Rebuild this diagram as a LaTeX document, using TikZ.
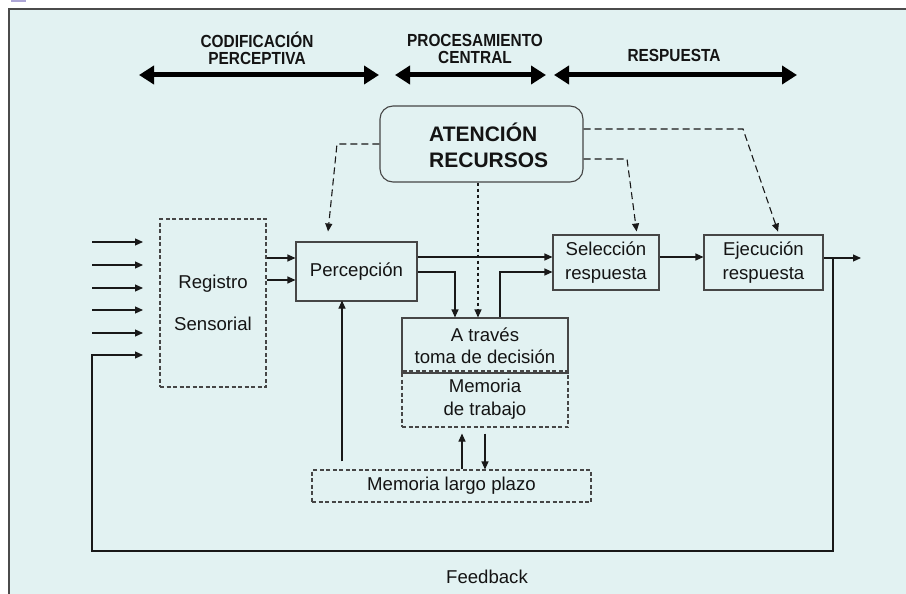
\documentclass[tikz,border=0pt]{standalone}
\usepackage{fontspec}
\setmainfont{Liberation Sans}
\usetikzlibrary{arrows.meta}
\definecolor{bg}{RGB}{226,242,242}
\definecolor{framec}{RGB}{75,75,75}
\definecolor{boxc}{RGB}{70,70,70}
\definecolor{purp}{RGB}{173,166,214}
\definecolor{txt}{RGB}{20,20,20}
\begin{document}
\begin{tikzpicture}[x=1pt,y=-1pt,
  box/.style={draw=boxc, line width=1.1pt, inner sep=0pt, text=txt,
    font=\fontsize{18.6}{23}\selectfont, align=center},
  dbox/.style={box, dash pattern=on 4pt off 2.5pt},
  arr/.style={draw=black!90, line width=1.1pt, -{Triangle[length=8pt,width=7pt]}},
  dsh/.style={arr, dash pattern=on 7pt off 4pt},
  dsh2/.style={arr, dash pattern=on 3.5pt off 2.5pt},
  big/.style={draw=black, line width=5pt, {Triangle[length=15pt,width=18pt]}-{Triangle[length=15pt,width=18pt]}},
  head/.style={font=\fontsize{17.5}{17}\selectfont\bfseries, align=center, text=txt, inner sep=0pt, xscale=0.88},
  plain/.style={font=\fontsize{18.6}{23}\selectfont, align=center, text=txt, inner sep=0pt}
]
\useasboundingbox (0,0) rectangle (906,594);
\fill[white] (0,0) rectangle (906,594);
\fill[purp] (11,0) rectangle (26,2.5);
\fill[bg] (8,9) rectangle (906,594);
\draw[framec, line width=2pt] (8.5,594) -- (8.5,9.5) -- (906,9.5);

% headers
\node[head] (h1) at (257,48.5) {CODIFICACIÓN\\PERCEPTIVA};
\node[head] (h2) at (475,48.5) {PROCESAMIENTO\\CENTRAL};
\node[head] (h3) at (674,55) {RESPUESTA};
\coordinate (a1l) at (139,75); \coordinate (a1r) at (379,75);
\coordinate (a2l) at (395,75); \coordinate (a2r) at (546,75);
\coordinate (a3l) at (554,75); \coordinate (a3r) at (797,75);
\draw[big] (a1l) -- (a1r);
\draw[big] (a2l) -- (a2r);
\draw[big] (a3l) -- (a3r);

% boxes
\node[box, rounded corners=13pt, minimum width=203pt, minimum height=76pt] (aten) at (481.5,144) {};
\node[plain, font=\fontsize{21}{26}\selectfont\bfseries, align=left, anchor=west] (atentxt) at (429,145) {ATENCIÓN\\RECURSOS};
\node[dbox, minimum width=106pt, minimum height=168pt] (reg) at (213,303) {Registro\\[19pt]Sensorial};
\node[box, minimum width=121pt, minimum height=59pt] (perc) at (356.5,271.5) {Percepción};
\node[box, minimum width=106pt, minimum height=55pt, font=\fontsize{18.6}{24}\selectfont] (sel) at (606,262.5) {Selección\\respuesta};
\node[box, minimum width=119pt, minimum height=55pt, font=\fontsize{18.6}{24}\selectfont] (eje) at (763.5,262.5) {Ejecución\\respuesta};
\node[dbox, minimum width=166pt, minimum height=56pt, yshift=-1pt] (mem) at (485,398) {Memoria\\de trabajo};
\node[box, minimum width=166pt, minimum height=55pt, font=\fontsize{18.6}{22}\selectfont] (atr) at (485,345.5) {A través\\toma de decisión};
\node[dbox, minimum width=279pt, minimum height=32pt] (mlp) at (451.5,486) {Memoria largo plazo};
\node[plain] (fb) at (487,577) {Feedback};

% inputs
\foreach \yy in {242,265,288,310,333}{
  \draw[arr] (92,\yy) -- (143,\yy);
}
\coordinate (in6) at (143,355);

% connectors
\draw[arr] (reg.east |- 0,258) -- (perc.west |- 0,258);
\draw[arr] (reg.east |- 0,280) -- (perc.west |- 0,280);
\draw[arr] (perc.east |- 0,257) -- (sel.west |- 0,257);
\draw[arr] (perc.east |- 0,272) -- (455,272) -- (atr.north -| 455,0);
\draw[arr] (atr.north -| 500,0) -- (500,272) -- (sel.west |- 0,272);
\draw[arr] (sel.east |- 0,257) -- (eje.west |- 0,257);
\draw[arr] (eje.east |- 0,258) -- (861,258);
\draw[arr] (833,258) -- (833,551) -- (92,551) -- (92,355) -- (in6);

\draw[dsh2] (aten.south -| 478,0) -- (atr.north -| 478,0);
\draw[dsh, shorten >=10pt] (aten.west) -- (337,144) -- (perc.north -| 327,0);
\draw[dsh, shorten >=3pt] (aten.east |- 0,159) -- (627,159) -- (sel.north -| 637,0);
\draw[dsh, shorten >=3pt] (aten.east |- 0,129) -- (743,129) -- (eje.north -| 779,0);

\draw[arr, shorten >=6pt] (mlp.north -| 462,0) -- (mem.south -| 462,0);
\draw[arr, shorten <=6pt] (mem.south -| 485,0) -- (mlp.north -| 485,0);
\draw[arr, shorten <=8pt, shorten >=-1pt] (mlp.north -| 342,0) -- (perc.south -| 342,0);
\end{tikzpicture}
\end{document}
